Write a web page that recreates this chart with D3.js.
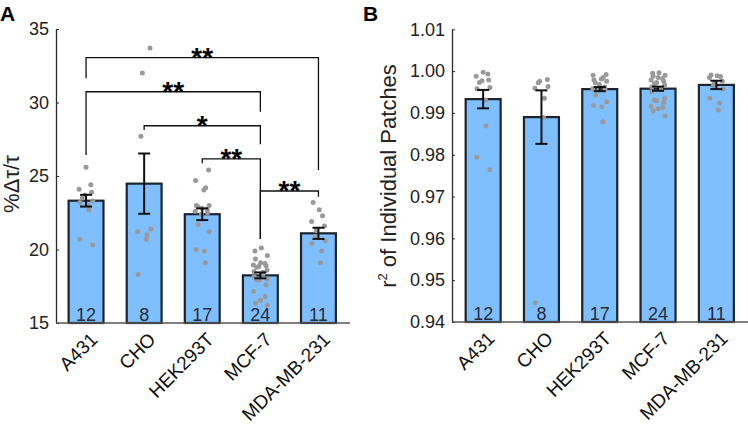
<!DOCTYPE html>
<html>
<head>
<meta charset="UTF-8">
<title>Patch fits</title>
<script src="https://cdnjs.cloudflare.com/ajax/libs/d3/7.8.5/d3.min.js"></script>
<style>
  body { margin: 0; background: #fff; }
  text { font-family: "Liberation Sans", Arial, sans-serif; }
</style>
</head>
<body>
<svg id="fig" width="748" height="426"></svg>
<script>
// categories and counts
var cells = ["A431", "CHO", "HEK293T", "MCF-7", "MDA-MB-231"];
var counts = [12, 8, 17, 24, 11];

// panel A: %dT/T
var dtMean = [23.32, 24.48, 22.40, 18.24, 21.10];
var dtSem = [0.40, 2.05, 0.40, 0.20, 0.38];
var dtPoints = [
  [25.6, 24.4, 24.1, 23.9, 23.7, 23.5, 23.3, 23.2, 23.0, 22.7, 20.7, 20.3],
  [33.7, 32.0, 27.7, 21.4, 21.2, 21.0, 20.7, 18.3],
  [25.4, 24.7, 24.2, 24.05, 23.0, 23.0, 22.9, 22.8, 22.7, 22.6, 22.5, 22.4, 21.7, 21.2, 20.0, 19.9, 19.1],
  [20.1, 19.9, 19.6, 19.35, 19.1, 19.05, 18.95, 18.9, 18.85, 18.8, 18.6, 18.5, 18.45, 18.3, 18.15, 18.0, 17.95, 17.9, 17.6, 17.15, 16.8, 16.55, 16.35, 16.2],
  [23.2, 22.7, 22.3, 21.9, 21.6, 21.3, 20.9, 20.6, 20.4, 19.9, 19.1]
];
var dtTicks = [15, 20, 25, 30, 35];

// significance brackets: left/right bar, bar height, leg ends, label
var brFrom = [0, 0, 1, 2, 3];
var brTo = [4, 3, 3, 3, 4];
var brLevel = [33.05, 30.73, 28.42, 26.16, 23.98];
var brLeftEnd = [31.65, 26.43, 28.13, 25.86, 20.71];
var brRightEnd = [25.4, 29.37, 27.16, 20.71, 23.59];
var brLabel = ["**", "**", "*", "**", "**"];

// panel B: r^2
var r2Mean = [0.9933, 0.9890, 0.9957, 0.9958, 0.9967];
var r2Sem = [0.0022, 0.0064, 0.0005, 0.0005, 0.0010];
var r2Points = [
  [0.9997, 0.9993, 0.9988, 0.9979, 0.9977, 0.9973, 0.9961, 0.9958, 0.9931, 0.9869, 0.9794, 0.9764],
  [0.9980, 0.9976, 0.9972, 0.9963, 0.9959, 0.9935, 0.9889, 0.9446],
  [0.9992, 0.9990, 0.9985, 0.9981, 0.9979, 0.9976, 0.9972, 0.9968, 0.9962, 0.9958, 0.9956, 0.9955, 0.9943, 0.9927, 0.9918, 0.9915, 0.9879],
  [0.9996, 0.9995, 0.9990, 0.9988, 0.9985, 0.9982, 0.9979, 0.9976, 0.9973, 0.9970, 0.9967, 0.9962, 0.9958, 0.9955, 0.9950, 0.9935, 0.9931, 0.9929, 0.9925, 0.9916, 0.9913, 0.9910, 0.9905, 0.9893],
  [0.9991, 0.9989, 0.9987, 0.9985, 0.9976, 0.9971, 0.9965, 0.9957, 0.9935, 0.9923, 0.9907]
];
var r2Ticks = [0.94, 0.95, 0.96, 0.97, 0.98, 0.99, 1.00, 1.01];

var barFill = "#80bfff", barEdge = "#1c232d", dotCol = "#999", axisCol = "#2a2a2a";

var svg = d3.select("#fig");

function panel(opt) {
  var g = svg.append("g");
  var x = d3.scaleBand().domain(cells).range(opt.xr).paddingInner(0.4).paddingOuter(0.2);
  var y = d3.scaleLinear().domain(opt.yd).range(opt.yr);
  var bw = x.bandwidth();

  // bars
  g.selectAll(".bar").data(cells).enter().append("rect")
    .attr("x", function (d) { return x(d); })
    .attr("y", function (d, i) { return y(opt.mean[i]); })
    .attr("width", bw)
    .attr("height", function (d, i) { return y(opt.yd[0]) - y(opt.mean[i]); })
    .attr("fill", barFill).attr("stroke", barEdge).attr("stroke-width", 2.2);

  // individual points
  opt.points.forEach(function (pts, i) {
    var cx = x(cells[i]) + bw / 2;
    g.selectAll(null).data(pts).enter().append("circle")
      .attr("cx", function (d, k) { return cx + Math.sin(k * 2.4 + i) * 7; })
      .attr("cy", function (d) { return y(d); })
      .attr("r", 2.5).attr("fill", dotCol);
  });

  // error bars
  cells.forEach(function (c, i) {
    var cx = x(c) + bw / 2, lo = y(opt.mean[i] - opt.sem[i]), hi = y(opt.mean[i] + opt.sem[i]);
    var eb = g.append("g").attr("stroke", "#111").attr("stroke-width", 2);
    eb.append("line").attr("x1", cx).attr("x2", cx).attr("y1", lo).attr("y2", hi);
    eb.append("line").attr("x1", cx - 6).attr("x2", cx + 6).attr("y1", lo).attr("y2", lo);
    eb.append("line").attr("x1", cx - 6).attr("x2", cx + 6).attr("y1", hi).attr("y2", hi);
  });

  // n labels
  g.selectAll(".n").data(counts).enter().append("text")
    .attr("x", function (d, i) { return x(cells[i]) + bw / 2; })
    .attr("y", y(opt.yd[0]) - 2)
    .attr("text-anchor", "middle").attr("font-size", 18).attr("fill", "#262b35")
    .text(function (d) { return d; });

  // y axis
  var ya = g.append("g").attr("transform", "translate(" + opt.ax + ",0)")
    .call(d3.axisLeft(y).tickValues(opt.ticks).tickFormat(opt.fmt).tickSizeInner(-3).tickSizeOuter(0).tickPadding(7));
  ya.select(".domain").attr("stroke", axisCol).attr("stroke-width", 1.3);
  ya.selectAll(".tick line").attr("stroke", axisCol);
  ya.selectAll("text").attr("font-size", 18).attr("fill", "#222").style("font-family", "Liberation Sans, Arial");

  // x axis line + rotated labels
  g.append("line").attr("x1", opt.ax).attr("x2", opt.xEnd)
    .attr("y1", y(opt.yd[0])).attr("y2", y(opt.yd[0]))
    .attr("stroke", "#555").attr("stroke-width", 1.5);
  g.selectAll(".cat").data(cells).enter().append("text")
    .attr("transform", function (d) {
      return "translate(" + (x(d) + bw / 2 + 3) + "," + (y(opt.yd[0]) + 8) + ") rotate(-45)";
    })
    .attr("text-anchor", "end").attr("dy", "0.72em").attr("font-size", 19).attr("fill", "#111")
    .text(function (d) { return d; });

  return { g: g, x: x, y: y };
}

// ---------- panel A ----------
var A = panel({
  xr: [57, 347.5], xEnd: 350, ax: 56, yd: [15, 35], yr: [323, 29],
  mean: dtMean, sem: dtSem, points: dtPoints, ticks: dtTicks, fmt: d3.format("d")
});

// brackets
brFrom.forEach(function (f, i) {
  var xl = A.x(cells[f]) + A.x.bandwidth() / 2, xr = A.x(cells[brTo[i]]) + A.x.bandwidth() / 2;
  var yl = A.y(brLevel[i]);
  A.g.append("path")
    .attr("d", "M" + xl + "," + A.y(brLeftEnd[i]) + "V" + yl + "H" + xr + "V" + A.y(brRightEnd[i]))
    .attr("fill", "none").attr("stroke", "#111").attr("stroke-width", 1.3);
  A.g.append("text")
    .attr("x", (xl + xr) / 2).attr("y", yl + 9)
    .attr("text-anchor", "middle").attr("font-size", 28).attr("font-weight", "bold")
    .text(brLabel[i]);
});

svg.append("text").attr("transform", "translate(19,184) rotate(-90)")
  .attr("text-anchor", "middle").attr("font-size", 22).attr("fill", "#222")
  .text("%Δτ/τ");

svg.append("text").attr("x", 0).attr("y", 21).attr("font-size", 21).attr("font-weight", "bold").text("A");

// ---------- panel B ----------
var B = panel({
  xr: [454, 745.5], xEnd: 748, ax: 452, yd: [0.94, 1.01], yr: [322, 29.3],
  mean: r2Mean, sem: r2Sem, points: r2Points, ticks: r2Ticks, fmt: d3.format(".2f")
});

var yl = svg.append("text").attr("transform", "translate(396,176) rotate(-90)")
  .attr("text-anchor", "middle").attr("font-size", 22).attr("fill", "#222");
yl.append("tspan").text("r");
yl.append("tspan").attr("font-size", 13).attr("dy", -9).text("2");
yl.append("tspan").attr("dy", 9).text(" of Individual Patches");

svg.append("text").attr("x", 363).attr("y", 21).attr("font-size", 21).attr("font-weight", "bold").text("B");
</script>
</body>
</html>
